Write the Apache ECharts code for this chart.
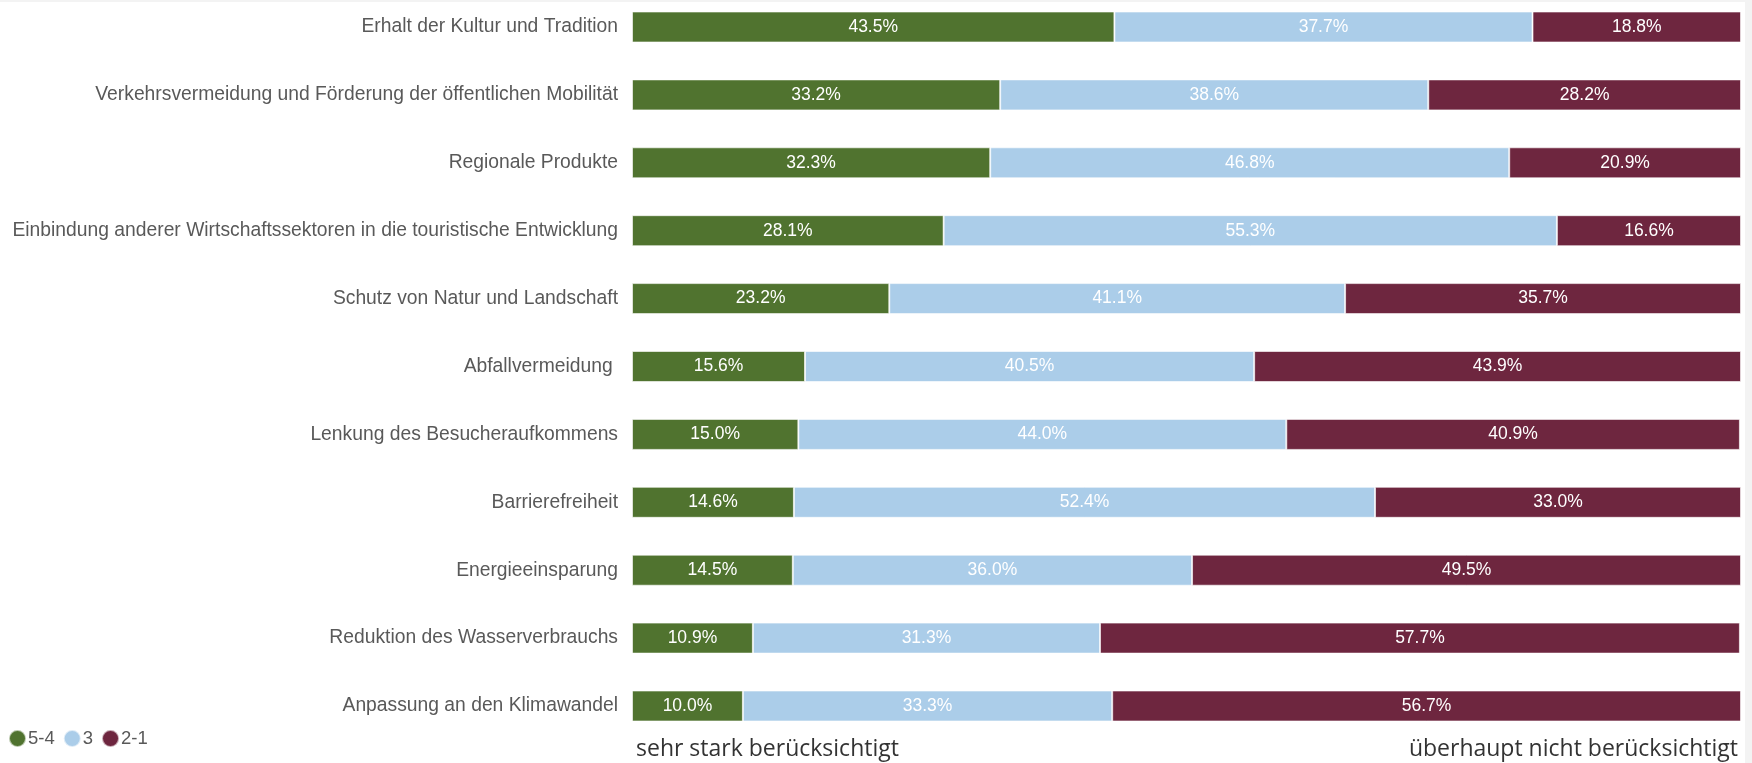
<!DOCTYPE html>
<html><head><meta charset="utf-8">
<script src="https://cdn.jsdelivr.net/npm/echarts@6/dist/echarts.min.js"></script>
<style>html,body{margin:0;padding:0;background:#fff}#c{width:1752px;height:763px}</style>
</head><body><div id="c"></div>
<script>
const categories = [
  "Erhalt der Kultur und Tradition",
  "Verkehrsvermeidung und Förderung der öffentlichen Mobilität",
  "Regionale Produkte",
  "Einbindung anderer Wirtschaftssektoren in die touristische Entwicklung",
  "Schutz von Natur und Landschaft",
  "Abfallvermeidung ",
  "Lenkung des Besucheraufkommens",
  "Barrierefreiheit",
  "Energieeinsparung",
  "Reduktion des Wasserverbrauchs",
  "Anpassung an den Klimawandel"
];
const s54 = [43.5, 33.2, 32.3, 28.1, 23.2, 15.6, 15.0, 14.6, 14.5, 10.9, 10.0];
const s3  = [37.7, 38.6, 46.8, 55.3, 41.1, 40.5, 44.0, 52.4, 36.0, 31.3, 33.3];
const s21 = [18.8, 28.2, 20.9, 16.6, 35.7, 43.9, 40.9, 33.0, 49.5, 57.7, 56.7];
const seriesNames = ["5-4", "3", "2-1"];
const colors = ["#50732f", "#abcde9", "#6e263f"];

const chart = echarts.init(document.getElementById('c'), null, {renderer: 'canvas'});
const mk = (name, data, color) => ({
  name, type: 'bar', stack: 'a', data, barWidth: 31, clip: false,
  itemStyle: {color, borderColor: 'rgba(255,255,255,0.6)', borderWidth: 1},
  label: {show: true, position: 'inside', color: '#fff', fontFamily: 'Liberation Sans, Arial', fontSize: 17.5,
    formatter: p => p.value.toFixed(1) + '%'},
  emphasis: {disabled: true}
});
chart.setOption({
  animation: false,
  color: colors,
  grid: {left: 632, right: 11, top: 27, height: 679, containLabel: false},
  xAxis: {type: 'value', min: 0, max: 100, show: false},
  yAxis: {type: 'category', data: categories, inverse: true, boundaryGap: false,
    axisLine: {show: false}, axisTick: {show: false}, splitLine: {show: false},
    axisLabel: {color: '#595959', fontSize: 19.3, fontFamily: 'Liberation Sans, Arial', margin: 14}},
  legend: {left: 3, top: 724, itemGap: 8, itemWidth: 17, itemHeight: 17, icon: 'circle',
    textStyle: {color: '#595959', fontSize: 18.5, fontFamily: 'Liberation Sans, Arial', padding: [0,0,0,-3]},
    data: seriesNames},
  series: [mk(seriesNames[0], s54, colors[0]), mk(seriesNames[1], s3, colors[1]), mk(seriesNames[2], s21, colors[2])],
  graphic: [
    {type: 'rect', right: 0, top: 0, shape: {width: 7, height: 763}, style: {fill: '#f3f3f3'}},
    {type: 'rect', left: 0, top: 0, shape: {width: 1752, height: 2}, style: {fill: '#f3f3f3'}},
    {type: 'text', left: 636, top: 738, style: {text: 'sehr stark berücksichtigt', fill: '#333', font: '23px "Open Sans"'}},
    {type: 'text', right: 14, top: 738, style: {text: 'überhaupt nicht berücksichtigt', fill: '#333', font: '23px "Open Sans"'}}
  ]
});
</script></body></html>
